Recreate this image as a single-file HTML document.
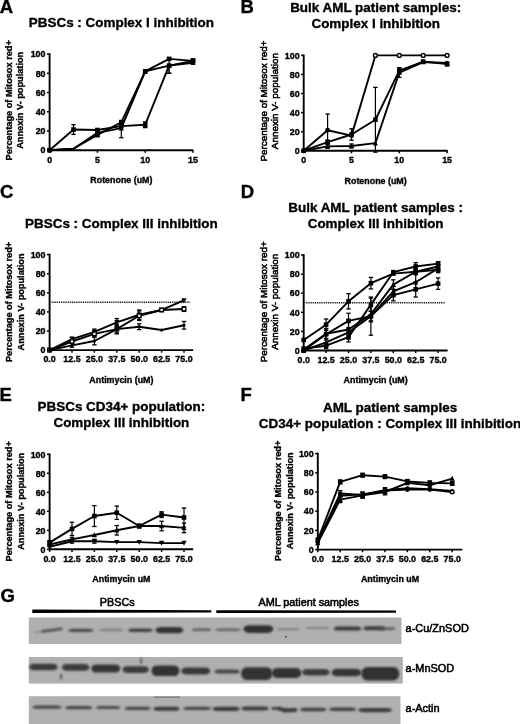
<!DOCTYPE html>
<html><head><meta charset="utf-8"><title>Figure</title>
<style>
html,body{margin:0;padding:0;background:#fff;}
body{width:520px;height:724px;overflow:hidden;}
svg{display:block;will-change:transform;font-family:"Liberation Sans",sans-serif;}
text{stroke:#000;stroke-width:0.35px;}
text.r{stroke-width:0.55px;}
</style></head><body>
<svg width="520" height="724" viewBox="0 0 520 724">
<defs><filter id="bl" filterUnits="userSpaceOnUse" x="0" y="580" width="520" height="150"><feGaussianBlur stdDeviation="0.9"/></filter></defs>
<rect width="520" height="724" fill="#fff"/>
<text x="-0.2" y="12.6" font-size="18.5" font-weight="bold" text-anchor="start" >A</text>
<text x="240.6" y="12.9" font-size="18.5" font-weight="bold" text-anchor="start" >B</text>
<text x="0.1" y="197.9" font-size="18.5" font-weight="bold" text-anchor="start" >C</text>
<text x="240.8" y="197.8" font-size="18.5" font-weight="bold" text-anchor="start" >D</text>
<text x="-0.4" y="401.2" font-size="18.5" font-weight="bold" text-anchor="start" >E</text>
<text x="240.6" y="401.2" font-size="18.5" font-weight="bold" text-anchor="start" >F</text>
<text x="0.4" y="601.6" font-size="18.5" font-weight="bold" text-anchor="start" >G</text>
<text x="121.4" y="27.2" font-size="13.45" font-weight="bold" text-anchor="middle" >PBSCs : Complex I inhibition</text>
<line x1="49.6" y1="53.2" x2="49.6" y2="151.1" stroke="#000" stroke-width="1.9" />
<line x1="48.7" y1="150.2" x2="193.2" y2="150.2" stroke="#000" stroke-width="1.9" />
<line x1="47" y1="150.2" x2="49.6" y2="150.2" stroke="#000" stroke-width="1.5" />
<text x="45.5" y="153.4" font-size="8.9" font-weight="bold" text-anchor="end" >0</text>
<line x1="47" y1="130.98" x2="49.6" y2="130.98" stroke="#000" stroke-width="1.5" />
<text x="45.5" y="134.18" font-size="8.9" font-weight="bold" text-anchor="end" >20</text>
<line x1="47" y1="111.76" x2="49.6" y2="111.76" stroke="#000" stroke-width="1.5" />
<text x="45.5" y="114.96" font-size="8.9" font-weight="bold" text-anchor="end" >40</text>
<line x1="47" y1="92.54" x2="49.6" y2="92.54" stroke="#000" stroke-width="1.5" />
<text x="45.5" y="95.74" font-size="8.9" font-weight="bold" text-anchor="end" >60</text>
<line x1="47" y1="73.32" x2="49.6" y2="73.32" stroke="#000" stroke-width="1.5" />
<text x="45.5" y="76.52" font-size="8.9" font-weight="bold" text-anchor="end" >80</text>
<line x1="47" y1="54.1" x2="49.6" y2="54.1" stroke="#000" stroke-width="1.5" />
<text x="45.5" y="57.3" font-size="8.9" font-weight="bold" text-anchor="end" >100</text>
<line x1="49.6" y1="150.2" x2="49.6" y2="152.8" stroke="#000" stroke-width="1.5" />
<text x="49.6" y="162.5" font-size="8.9" font-weight="bold" text-anchor="middle" >0</text>
<line x1="97.4" y1="150.2" x2="97.4" y2="152.8" stroke="#000" stroke-width="1.5" />
<text x="97.4" y="162.5" font-size="8.9" font-weight="bold" text-anchor="middle" >5</text>
<line x1="145.2" y1="150.2" x2="145.2" y2="152.8" stroke="#000" stroke-width="1.5" />
<text x="145.2" y="162.5" font-size="8.9" font-weight="bold" text-anchor="middle" >10</text>
<line x1="193" y1="150.2" x2="193" y2="152.8" stroke="#000" stroke-width="1.5" />
<text x="193" y="162.5" font-size="8.9" font-weight="bold" text-anchor="middle" >15</text>
<text x="121.4" y="183" font-size="8.9" font-weight="bold" text-anchor="middle" >Rotenone (uM)</text>
<text x="0" y="0" font-size="9.2" font-weight="bold" text-anchor="middle" transform="translate(11.6,100.3) rotate(-90)">Percentage of Mitosox red+</text>
<text x="0" y="0" font-size="9.2" font-weight="bold" text-anchor="middle" transform="translate(23.2,100.3) rotate(-90)">Annexin V- population</text>
<polyline points="49.6,150.2 73.5,129.54 97.4,130.02 121.3,126.17 145.2,124.73 169.1,65.63 193,60.83" fill="none" stroke="#000" stroke-width="1.9" stroke-linejoin="round"/>
<line x1="73.5" y1="124.73" x2="73.5" y2="134.34" stroke="#000" stroke-width="1.2" />
<line x1="71.3" y1="124.73" x2="75.7" y2="124.73" stroke="#000" stroke-width="1.3" />
<line x1="71.3" y1="134.34" x2="75.7" y2="134.34" stroke="#000" stroke-width="1.3" />
<line x1="145.2" y1="121.85" x2="145.2" y2="127.62" stroke="#000" stroke-width="1.2" />
<line x1="143" y1="121.85" x2="147.4" y2="121.85" stroke="#000" stroke-width="1.3" />
<line x1="143" y1="127.62" x2="147.4" y2="127.62" stroke="#000" stroke-width="1.3" />
<line x1="169.1" y1="57.94" x2="169.1" y2="73.32" stroke="#000" stroke-width="1.2" />
<line x1="166.9" y1="57.94" x2="171.3" y2="57.94" stroke="#000" stroke-width="1.3" />
<line x1="166.9" y1="73.32" x2="171.3" y2="73.32" stroke="#000" stroke-width="1.3" />
<rect x="47.3" y="147.9" width="4.6" height="4.6" fill="#000"/>
<rect x="71.2" y="127.24" width="4.6" height="4.6" fill="#000"/>
<rect x="95.1" y="127.72" width="4.6" height="4.6" fill="#000"/>
<rect x="119" y="123.87" width="4.6" height="4.6" fill="#000"/>
<rect x="142.9" y="122.43" width="4.6" height="4.6" fill="#000"/>
<rect x="166.8" y="63.33" width="4.6" height="4.6" fill="#000"/>
<rect x="190.7" y="58.53" width="4.6" height="4.6" fill="#000"/>
<polyline points="49.6,150.2 73.5,148.76 97.4,134.82 121.3,122.33 145.2,71.4 169.1,58.9 193,60.83" fill="none" stroke="#000" stroke-width="1.9" stroke-linejoin="round"/>
<line x1="97.4" y1="132.9" x2="97.4" y2="136.75" stroke="#000" stroke-width="1.2" />
<line x1="95.2" y1="132.9" x2="99.6" y2="132.9" stroke="#000" stroke-width="1.3" />
<line x1="95.2" y1="136.75" x2="99.6" y2="136.75" stroke="#000" stroke-width="1.3" />
<line x1="121.3" y1="120.41" x2="121.3" y2="124.25" stroke="#000" stroke-width="1.2" />
<line x1="119.1" y1="120.41" x2="123.5" y2="120.41" stroke="#000" stroke-width="1.3" />
<line x1="119.1" y1="124.25" x2="123.5" y2="124.25" stroke="#000" stroke-width="1.3" />
<line x1="193" y1="58.9" x2="193" y2="62.75" stroke="#000" stroke-width="1.2" />
<line x1="190.8" y1="58.9" x2="195.2" y2="58.9" stroke="#000" stroke-width="1.3" />
<line x1="190.8" y1="62.75" x2="195.2" y2="62.75" stroke="#000" stroke-width="1.3" />
<circle cx="49.6" cy="150.2" r="2.3" fill="#000"/>
<rect x="95.1" y="132.52" width="4.6" height="4.6" fill="#000"/>
<rect x="119" y="120.03" width="4.6" height="4.6" fill="#000"/>
<rect x="142.9" y="69.1" width="4.6" height="4.6" fill="#000"/>
<rect x="166.8" y="56.6" width="4.6" height="4.6" fill="#000"/>
<rect x="190.7" y="58.53" width="4.6" height="4.6" fill="#000"/>
<polyline points="49.6,150.2 73.5,148.76 97.4,132.9 121.3,128.1 145.2,71.4 169.1,65.63 193,62.75" fill="none" stroke="#000" stroke-width="1.9" stroke-linejoin="round"/>
<line x1="97.4" y1="130.98" x2="97.4" y2="134.82" stroke="#000" stroke-width="1.2" />
<line x1="95.2" y1="130.98" x2="99.6" y2="130.98" stroke="#000" stroke-width="1.3" />
<line x1="95.2" y1="134.82" x2="99.6" y2="134.82" stroke="#000" stroke-width="1.3" />
<line x1="121.3" y1="125.21" x2="121.3" y2="137.71" stroke="#000" stroke-width="1.2" />
<line x1="119.1" y1="125.21" x2="123.5" y2="125.21" stroke="#000" stroke-width="1.3" />
<line x1="119.1" y1="137.71" x2="123.5" y2="137.71" stroke="#000" stroke-width="1.3" />
<line x1="169.1" y1="65.63" x2="169.1" y2="73.32" stroke="#000" stroke-width="1.2" />
<line x1="166.9" y1="73.32" x2="171.3" y2="73.32" stroke="#000" stroke-width="1.3" />
<circle cx="49.6" cy="150.2" r="2.3" fill="#000"/>
<path d="M97.4 130.2L100 135.2L94.8 135.2Z" fill="#000"/>
<path d="M121.3 125.4L123.9 130.4L118.7 130.4Z" fill="#000"/>
<path d="M145.2 68.7L147.8 73.7L142.6 73.7Z" fill="#000"/>
<path d="M169.1 62.93L171.7 67.93L166.5 67.93Z" fill="#000"/>
<path d="M193 60.05L195.6 65.05L190.4 65.05Z" fill="#000"/>
<text x="375.65" y="12.1" font-size="13.45" font-weight="bold" text-anchor="middle" >Bulk AML patient samples:</text>
<text x="375.65" y="28.1" font-size="13.45" font-weight="bold" text-anchor="middle" >Complex I inhibition</text>
<line x1="303.7" y1="54.5" x2="303.7" y2="151.6" stroke="#000" stroke-width="1.9" />
<line x1="302.8" y1="150.7" x2="447.6" y2="150.7" stroke="#000" stroke-width="1.9" />
<line x1="301.1" y1="150.7" x2="303.7" y2="150.7" stroke="#000" stroke-width="1.5" />
<text x="299.6" y="153.9" font-size="8.9" font-weight="bold" text-anchor="end" >0</text>
<line x1="301.1" y1="131.64" x2="303.7" y2="131.64" stroke="#000" stroke-width="1.5" />
<text x="299.6" y="134.84" font-size="8.9" font-weight="bold" text-anchor="end" >20</text>
<line x1="301.1" y1="112.58" x2="303.7" y2="112.58" stroke="#000" stroke-width="1.5" />
<text x="299.6" y="115.78" font-size="8.9" font-weight="bold" text-anchor="end" >40</text>
<line x1="301.1" y1="93.52" x2="303.7" y2="93.52" stroke="#000" stroke-width="1.5" />
<text x="299.6" y="96.72" font-size="8.9" font-weight="bold" text-anchor="end" >60</text>
<line x1="301.1" y1="74.46" x2="303.7" y2="74.46" stroke="#000" stroke-width="1.5" />
<text x="299.6" y="77.66" font-size="8.9" font-weight="bold" text-anchor="end" >80</text>
<line x1="301.1" y1="55.4" x2="303.7" y2="55.4" stroke="#000" stroke-width="1.5" />
<text x="299.6" y="58.6" font-size="8.9" font-weight="bold" text-anchor="end" >100</text>
<line x1="303.7" y1="150.7" x2="303.7" y2="153.3" stroke="#000" stroke-width="1.5" />
<text x="303.7" y="163" font-size="8.9" font-weight="bold" text-anchor="middle" >0</text>
<line x1="351.5" y1="150.7" x2="351.5" y2="153.3" stroke="#000" stroke-width="1.5" />
<text x="351.5" y="163" font-size="8.9" font-weight="bold" text-anchor="middle" >5</text>
<line x1="399.3" y1="150.7" x2="399.3" y2="153.3" stroke="#000" stroke-width="1.5" />
<text x="399.3" y="163" font-size="8.9" font-weight="bold" text-anchor="middle" >10</text>
<line x1="447.1" y1="150.7" x2="447.1" y2="153.3" stroke="#000" stroke-width="1.5" />
<text x="447.1" y="163" font-size="8.9" font-weight="bold" text-anchor="middle" >15</text>
<text x="375.65" y="183.5" font-size="8.9" font-weight="bold" text-anchor="middle" >Rotenone (uM)</text>
<text x="0" y="0" font-size="9.9" font-weight="normal" class="r" text-anchor="middle" transform="translate(266.6,101.1) rotate(-90)">Percentage of Mitosox red+</text>
<text x="0" y="0" font-size="9.9" font-weight="normal" class="r" text-anchor="middle" transform="translate(277.8,101.1) rotate(-90)">Annexin V- population</text>
<polyline points="303.7,150.7 327.6,130.21 351.5,135.64 375.4,55.4 399.3,55.4 423.2,55.4 447.1,55.4" fill="none" stroke="#000" stroke-width="1.9" stroke-linejoin="round"/>
<line x1="327.6" y1="114.01" x2="327.6" y2="146.41" stroke="#000" stroke-width="1.2" />
<line x1="325.4" y1="114.01" x2="329.8" y2="114.01" stroke="#000" stroke-width="1.3" />
<line x1="325.4" y1="146.41" x2="329.8" y2="146.41" stroke="#000" stroke-width="1.3" />
<circle cx="303.7" cy="150.7" r="2.4" fill="#000"/>
<circle cx="327.6" cy="130.21" r="2.4" fill="#000"/>
<circle cx="351.5" cy="135.64" r="2.4" fill="#000"/>
<circle cx="375.4" cy="55.4" r="1.9" fill="#fff" stroke="#000" stroke-width="1.4"/>
<circle cx="399.3" cy="55.4" r="1.9" fill="#fff" stroke="#000" stroke-width="1.4"/>
<circle cx="423.2" cy="55.4" r="1.9" fill="#fff" stroke="#000" stroke-width="1.4"/>
<circle cx="447.1" cy="55.4" r="1.9" fill="#fff" stroke="#000" stroke-width="1.4"/>
<polyline points="303.7,150.7 327.6,142.12 351.5,134.5 375.4,119.73 399.3,70.65 423.2,61.59 447.1,63.98" fill="none" stroke="#000" stroke-width="1.9" stroke-linejoin="round"/>
<line x1="327.6" y1="140.22" x2="327.6" y2="144.03" stroke="#000" stroke-width="1.2" />
<line x1="325.4" y1="140.22" x2="329.8" y2="140.22" stroke="#000" stroke-width="1.3" />
<line x1="325.4" y1="144.03" x2="329.8" y2="144.03" stroke="#000" stroke-width="1.3" />
<line x1="351.5" y1="128.78" x2="351.5" y2="140.22" stroke="#000" stroke-width="1.2" />
<line x1="349.3" y1="128.78" x2="353.7" y2="128.78" stroke="#000" stroke-width="1.3" />
<line x1="349.3" y1="140.22" x2="353.7" y2="140.22" stroke="#000" stroke-width="1.3" />
<line x1="375.4" y1="87.33" x2="375.4" y2="152.13" stroke="#000" stroke-width="1.2" />
<line x1="373.2" y1="87.33" x2="377.6" y2="87.33" stroke="#000" stroke-width="1.3" />
<line x1="373.2" y1="152.13" x2="377.6" y2="152.13" stroke="#000" stroke-width="1.3" />
<line x1="399.3" y1="67.79" x2="399.3" y2="73.51" stroke="#000" stroke-width="1.2" />
<line x1="397.1" y1="67.79" x2="401.5" y2="67.79" stroke="#000" stroke-width="1.3" />
<line x1="397.1" y1="73.51" x2="401.5" y2="73.51" stroke="#000" stroke-width="1.3" />
<line x1="447.1" y1="62.07" x2="447.1" y2="65.88" stroke="#000" stroke-width="1.2" />
<line x1="444.9" y1="62.07" x2="449.3" y2="62.07" stroke="#000" stroke-width="1.3" />
<line x1="444.9" y1="65.88" x2="449.3" y2="65.88" stroke="#000" stroke-width="1.3" />
<rect x="301.4" y="148.4" width="4.6" height="4.6" fill="#000"/>
<rect x="325.3" y="139.82" width="4.6" height="4.6" fill="#000"/>
<rect x="349.2" y="132.2" width="4.6" height="4.6" fill="#000"/>
<rect x="373.1" y="117.43" width="4.6" height="4.6" fill="#000"/>
<rect x="397" y="68.35" width="4.6" height="4.6" fill="#000"/>
<rect x="420.9" y="59.29" width="4.6" height="4.6" fill="#000"/>
<rect x="444.8" y="61.68" width="4.6" height="4.6" fill="#000"/>
<polyline points="303.7,150.7 327.6,146.41 351.5,145.94 375.4,143.08 399.3,72.55 423.2,62.07 447.1,63.02" fill="none" stroke="#000" stroke-width="1.9" stroke-linejoin="round"/>
<line x1="327.6" y1="144.51" x2="327.6" y2="148.32" stroke="#000" stroke-width="1.2" />
<line x1="325.4" y1="144.51" x2="329.8" y2="144.51" stroke="#000" stroke-width="1.3" />
<line x1="325.4" y1="148.32" x2="329.8" y2="148.32" stroke="#000" stroke-width="1.3" />
<line x1="351.5" y1="144.03" x2="351.5" y2="147.84" stroke="#000" stroke-width="1.2" />
<line x1="349.3" y1="144.03" x2="353.7" y2="144.03" stroke="#000" stroke-width="1.3" />
<line x1="349.3" y1="147.84" x2="353.7" y2="147.84" stroke="#000" stroke-width="1.3" />
<line x1="399.3" y1="67.79" x2="399.3" y2="77.32" stroke="#000" stroke-width="1.2" />
<line x1="397.1" y1="67.79" x2="401.5" y2="67.79" stroke="#000" stroke-width="1.3" />
<line x1="397.1" y1="77.32" x2="401.5" y2="77.32" stroke="#000" stroke-width="1.3" />
<path d="M303.7 148L306.3 153L301.1 153Z" fill="#000"/>
<path d="M327.6 143.71L330.2 148.71L325 148.71Z" fill="#000"/>
<path d="M351.5 143.23L354.1 148.24L348.9 148.24Z" fill="#000"/>
<path d="M375.4 140.38L378 145.38L372.8 145.38Z" fill="#000"/>
<path d="M399.3 69.85L401.9 74.85L396.7 74.85Z" fill="#000"/>
<path d="M423.2 59.37L425.8 64.37L420.6 64.37Z" fill="#000"/>
<path d="M447.1 60.32L449.7 65.32L444.5 65.32Z" fill="#000"/>
<text x="121.4" y="228.1" font-size="13.45" font-weight="bold" text-anchor="middle" >PBSCs : Complex III inhibition</text>
<line x1="51.6" y1="302.35" x2="190.5" y2="302.35" stroke="#000" stroke-width="1.5" stroke-dasharray="1 0.85"/>
<line x1="49.6" y1="253.7" x2="49.6" y2="351" stroke="#000" stroke-width="1.9" />
<line x1="48.7" y1="350.1" x2="193.2" y2="350.1" stroke="#000" stroke-width="1.9" />
<line x1="47" y1="350.1" x2="49.6" y2="350.1" stroke="#000" stroke-width="1.5" />
<text x="45.5" y="353.3" font-size="8.9" font-weight="bold" text-anchor="end" >0</text>
<line x1="47" y1="331" x2="49.6" y2="331" stroke="#000" stroke-width="1.5" />
<text x="45.5" y="334.2" font-size="8.9" font-weight="bold" text-anchor="end" >20</text>
<line x1="47" y1="311.9" x2="49.6" y2="311.9" stroke="#000" stroke-width="1.5" />
<text x="45.5" y="315.1" font-size="8.9" font-weight="bold" text-anchor="end" >40</text>
<line x1="47" y1="292.8" x2="49.6" y2="292.8" stroke="#000" stroke-width="1.5" />
<text x="45.5" y="296" font-size="8.9" font-weight="bold" text-anchor="end" >60</text>
<line x1="47" y1="273.7" x2="49.6" y2="273.7" stroke="#000" stroke-width="1.5" />
<text x="45.5" y="276.9" font-size="8.9" font-weight="bold" text-anchor="end" >80</text>
<line x1="47" y1="254.6" x2="49.6" y2="254.6" stroke="#000" stroke-width="1.5" />
<text x="45.5" y="257.8" font-size="8.9" font-weight="bold" text-anchor="end" >100</text>
<line x1="49.6" y1="350.1" x2="49.6" y2="352.7" stroke="#000" stroke-width="1.5" />
<text x="49.6" y="362.4" font-size="8.9" font-weight="bold" text-anchor="middle" >0.0</text>
<line x1="72" y1="350.1" x2="72" y2="352.7" stroke="#000" stroke-width="1.5" />
<text x="72" y="362.4" font-size="8.9" font-weight="bold" text-anchor="middle" >12.5</text>
<line x1="94.4" y1="350.1" x2="94.4" y2="352.7" stroke="#000" stroke-width="1.5" />
<text x="94.4" y="362.4" font-size="8.9" font-weight="bold" text-anchor="middle" >25.0</text>
<line x1="116.8" y1="350.1" x2="116.8" y2="352.7" stroke="#000" stroke-width="1.5" />
<text x="116.8" y="362.4" font-size="8.9" font-weight="bold" text-anchor="middle" >37.5</text>
<line x1="139.2" y1="350.1" x2="139.2" y2="352.7" stroke="#000" stroke-width="1.5" />
<text x="139.2" y="362.4" font-size="8.9" font-weight="bold" text-anchor="middle" >50.0</text>
<line x1="161.6" y1="350.1" x2="161.6" y2="352.7" stroke="#000" stroke-width="1.5" />
<text x="161.6" y="362.4" font-size="8.9" font-weight="bold" text-anchor="middle" >62.5</text>
<line x1="184" y1="350.1" x2="184" y2="352.7" stroke="#000" stroke-width="1.5" />
<text x="184" y="362.4" font-size="8.9" font-weight="bold" text-anchor="middle" >75.0</text>
<text x="121.4" y="382.9" font-size="8.9" font-weight="bold" text-anchor="middle" >Antimycin (uM)</text>
<text x="0" y="0" font-size="9.2" font-weight="bold" text-anchor="middle" transform="translate(12.4,301.9) rotate(-90)">Percentage of Mitosox red+</text>
<text x="0" y="0" font-size="9.2" font-weight="bold" text-anchor="middle" transform="translate(23.6,301.9) rotate(-90)">Annexin V- population</text>
<polyline points="49.6,350.1 72,339.12 94.4,331.96 116.8,322.41 139.2,314.76 161.6,309.99 184,300.44" fill="none" stroke="#000" stroke-width="1.9" stroke-linejoin="round"/>
<line x1="72" y1="337.21" x2="72" y2="341.03" stroke="#000" stroke-width="1.2" />
<line x1="69.8" y1="337.21" x2="74.2" y2="337.21" stroke="#000" stroke-width="1.3" />
<line x1="69.8" y1="341.03" x2="74.2" y2="341.03" stroke="#000" stroke-width="1.3" />
<line x1="94.4" y1="329.09" x2="94.4" y2="334.82" stroke="#000" stroke-width="1.2" />
<line x1="92.2" y1="329.09" x2="96.6" y2="329.09" stroke="#000" stroke-width="1.3" />
<line x1="92.2" y1="334.82" x2="96.6" y2="334.82" stroke="#000" stroke-width="1.3" />
<line x1="116.8" y1="318.59" x2="116.8" y2="326.23" stroke="#000" stroke-width="1.2" />
<line x1="114.6" y1="318.59" x2="119" y2="318.59" stroke="#000" stroke-width="1.3" />
<line x1="114.6" y1="326.23" x2="119" y2="326.23" stroke="#000" stroke-width="1.3" />
<line x1="139.2" y1="309.99" x2="139.2" y2="319.54" stroke="#000" stroke-width="1.2" />
<line x1="137" y1="309.99" x2="141.4" y2="309.99" stroke="#000" stroke-width="1.3" />
<line x1="137" y1="319.54" x2="141.4" y2="319.54" stroke="#000" stroke-width="1.3" />
<path d="M49.6 352.8L52.2 347.8L47 347.8Z" fill="#000"/>
<path d="M72 341.82L74.6 336.82L69.4 336.82Z" fill="#000"/>
<path d="M94.4 334.66L97 329.66L91.8 329.66Z" fill="#000"/>
<path d="M116.8 325.11L119.4 320.11L114.2 320.11Z" fill="#000"/>
<path d="M139.2 317.46L141.8 312.46L136.6 312.46Z" fill="#000"/>
<path d="M161.6 312.69L164.2 307.69L159 307.69Z" fill="#000"/>
<path d="M184 303.14L186.6 298.14L181.4 298.14Z" fill="#000"/>
<polyline points="49.6,350.1 72,341.5 94.4,333.87 116.8,329.09 139.2,315.72 161.6,309.99 184,309.04" fill="none" stroke="#000" stroke-width="1.9" stroke-linejoin="round"/>
<line x1="72" y1="339.6" x2="72" y2="343.42" stroke="#000" stroke-width="1.2" />
<line x1="69.8" y1="339.6" x2="74.2" y2="339.6" stroke="#000" stroke-width="1.3" />
<line x1="69.8" y1="343.42" x2="74.2" y2="343.42" stroke="#000" stroke-width="1.3" />
<line x1="94.4" y1="331" x2="94.4" y2="336.73" stroke="#000" stroke-width="1.2" />
<line x1="92.2" y1="331" x2="96.6" y2="331" stroke="#000" stroke-width="1.3" />
<line x1="92.2" y1="336.73" x2="96.6" y2="336.73" stroke="#000" stroke-width="1.3" />
<line x1="116.8" y1="325.27" x2="116.8" y2="332.91" stroke="#000" stroke-width="1.2" />
<line x1="114.6" y1="325.27" x2="119" y2="325.27" stroke="#000" stroke-width="1.3" />
<line x1="114.6" y1="332.91" x2="119" y2="332.91" stroke="#000" stroke-width="1.3" />
<line x1="139.2" y1="310.94" x2="139.2" y2="320.5" stroke="#000" stroke-width="1.2" />
<line x1="137" y1="310.94" x2="141.4" y2="310.94" stroke="#000" stroke-width="1.3" />
<line x1="137" y1="320.5" x2="141.4" y2="320.5" stroke="#000" stroke-width="1.3" />
<line x1="161.6" y1="308.56" x2="161.6" y2="311.42" stroke="#000" stroke-width="1.2" />
<line x1="159.4" y1="308.56" x2="163.8" y2="308.56" stroke="#000" stroke-width="1.3" />
<line x1="159.4" y1="311.42" x2="163.8" y2="311.42" stroke="#000" stroke-width="1.3" />
<line x1="184" y1="306.65" x2="184" y2="311.42" stroke="#000" stroke-width="1.2" />
<line x1="181.8" y1="306.65" x2="186.2" y2="306.65" stroke="#000" stroke-width="1.3" />
<line x1="181.8" y1="311.42" x2="186.2" y2="311.42" stroke="#000" stroke-width="1.3" />
<rect x="47.8" y="348.3" width="3.6" height="3.6" fill="#fff" stroke="#000" stroke-width="1.4"/>
<rect x="70.2" y="339.7" width="3.6" height="3.6" fill="#fff" stroke="#000" stroke-width="1.4"/>
<rect x="92.6" y="332.06" width="3.6" height="3.6" fill="#fff" stroke="#000" stroke-width="1.4"/>
<rect x="115" y="327.29" width="3.6" height="3.6" fill="#fff" stroke="#000" stroke-width="1.4"/>
<rect x="137.4" y="313.92" width="3.6" height="3.6" fill="#fff" stroke="#000" stroke-width="1.4"/>
<rect x="159.8" y="308.19" width="3.6" height="3.6" fill="#fff" stroke="#000" stroke-width="1.4"/>
<rect x="182.2" y="307.24" width="3.6" height="3.6" fill="#fff" stroke="#000" stroke-width="1.4"/>
<polyline points="49.6,350.1 72,345.33 94.4,341.03 116.8,329.09 139.2,326.7 161.6,330.05 184,325.27" fill="none" stroke="#000" stroke-width="1.9" stroke-linejoin="round"/>
<line x1="72" y1="343.42" x2="72" y2="347.24" stroke="#000" stroke-width="1.2" />
<line x1="69.8" y1="343.42" x2="74.2" y2="343.42" stroke="#000" stroke-width="1.3" />
<line x1="69.8" y1="347.24" x2="74.2" y2="347.24" stroke="#000" stroke-width="1.3" />
<line x1="94.4" y1="337.21" x2="94.4" y2="344.85" stroke="#000" stroke-width="1.2" />
<line x1="92.2" y1="337.21" x2="96.6" y2="337.21" stroke="#000" stroke-width="1.3" />
<line x1="92.2" y1="344.85" x2="96.6" y2="344.85" stroke="#000" stroke-width="1.3" />
<line x1="116.8" y1="324.31" x2="116.8" y2="333.87" stroke="#000" stroke-width="1.2" />
<line x1="114.6" y1="324.31" x2="119" y2="324.31" stroke="#000" stroke-width="1.3" />
<line x1="114.6" y1="333.87" x2="119" y2="333.87" stroke="#000" stroke-width="1.3" />
<line x1="139.2" y1="323.84" x2="139.2" y2="329.57" stroke="#000" stroke-width="1.2" />
<line x1="137" y1="323.84" x2="141.4" y2="323.84" stroke="#000" stroke-width="1.3" />
<line x1="137" y1="329.57" x2="141.4" y2="329.57" stroke="#000" stroke-width="1.3" />
<line x1="184" y1="321.45" x2="184" y2="329.09" stroke="#000" stroke-width="1.2" />
<line x1="181.8" y1="321.45" x2="186.2" y2="321.45" stroke="#000" stroke-width="1.3" />
<line x1="181.8" y1="329.09" x2="186.2" y2="329.09" stroke="#000" stroke-width="1.3" />
<circle cx="49.6" cy="350.1" r="1.6" fill="#000"/>
<circle cx="72" cy="345.33" r="1.6" fill="#000"/>
<circle cx="94.4" cy="341.03" r="1.6" fill="#000"/>
<circle cx="116.8" cy="329.09" r="1.6" fill="#000"/>
<circle cx="139.2" cy="326.7" r="1.6" fill="#000"/>
<circle cx="161.6" cy="330.05" r="1.6" fill="#000"/>
<circle cx="184" cy="325.27" r="1.6" fill="#000"/>
<text x="375.65" y="212" font-size="13.45" font-weight="bold" text-anchor="middle" >Bulk AML patient samples :</text>
<text x="375.65" y="228" font-size="13.45" font-weight="bold" text-anchor="middle" >Complex III inhibition</text>
<line x1="305.7" y1="302.75" x2="445" y2="302.75" stroke="#000" stroke-width="1.5" stroke-dasharray="1 0.85"/>
<line x1="303.7" y1="254.1" x2="303.7" y2="351.4" stroke="#000" stroke-width="1.9" />
<line x1="302.8" y1="350.5" x2="447.6" y2="350.5" stroke="#000" stroke-width="1.9" />
<line x1="301.1" y1="350.5" x2="303.7" y2="350.5" stroke="#000" stroke-width="1.5" />
<text x="299.6" y="353.7" font-size="8.9" font-weight="bold" text-anchor="end" >0</text>
<line x1="301.1" y1="331.4" x2="303.7" y2="331.4" stroke="#000" stroke-width="1.5" />
<text x="299.6" y="334.6" font-size="8.9" font-weight="bold" text-anchor="end" >20</text>
<line x1="301.1" y1="312.3" x2="303.7" y2="312.3" stroke="#000" stroke-width="1.5" />
<text x="299.6" y="315.5" font-size="8.9" font-weight="bold" text-anchor="end" >40</text>
<line x1="301.1" y1="293.2" x2="303.7" y2="293.2" stroke="#000" stroke-width="1.5" />
<text x="299.6" y="296.4" font-size="8.9" font-weight="bold" text-anchor="end" >60</text>
<line x1="301.1" y1="274.1" x2="303.7" y2="274.1" stroke="#000" stroke-width="1.5" />
<text x="299.6" y="277.3" font-size="8.9" font-weight="bold" text-anchor="end" >80</text>
<line x1="301.1" y1="255" x2="303.7" y2="255" stroke="#000" stroke-width="1.5" />
<text x="299.6" y="258.2" font-size="8.9" font-weight="bold" text-anchor="end" >100</text>
<line x1="303.7" y1="350.5" x2="303.7" y2="353.1" stroke="#000" stroke-width="1.5" />
<text x="303.7" y="362.8" font-size="8.9" font-weight="bold" text-anchor="middle" >0.0</text>
<line x1="326.1" y1="350.5" x2="326.1" y2="353.1" stroke="#000" stroke-width="1.5" />
<text x="326.1" y="362.8" font-size="8.9" font-weight="bold" text-anchor="middle" >12.5</text>
<line x1="348.5" y1="350.5" x2="348.5" y2="353.1" stroke="#000" stroke-width="1.5" />
<text x="348.5" y="362.8" font-size="8.9" font-weight="bold" text-anchor="middle" >25.0</text>
<line x1="370.9" y1="350.5" x2="370.9" y2="353.1" stroke="#000" stroke-width="1.5" />
<text x="370.9" y="362.8" font-size="8.9" font-weight="bold" text-anchor="middle" >37.5</text>
<line x1="393.3" y1="350.5" x2="393.3" y2="353.1" stroke="#000" stroke-width="1.5" />
<text x="393.3" y="362.8" font-size="8.9" font-weight="bold" text-anchor="middle" >50.0</text>
<line x1="415.7" y1="350.5" x2="415.7" y2="353.1" stroke="#000" stroke-width="1.5" />
<text x="415.7" y="362.8" font-size="8.9" font-weight="bold" text-anchor="middle" >62.5</text>
<line x1="438.1" y1="350.5" x2="438.1" y2="353.1" stroke="#000" stroke-width="1.5" />
<text x="438.1" y="362.8" font-size="8.9" font-weight="bold" text-anchor="middle" >75.0</text>
<text x="375.65" y="383.3" font-size="8.9" font-weight="bold" text-anchor="middle" >Antimycin (uM)</text>
<text x="0" y="0" font-size="9.9" font-weight="normal" class="r" text-anchor="middle" transform="translate(266.6,301.7) rotate(-90)">Percentage of Mitosox red+</text>
<text x="0" y="0" font-size="9.9" font-weight="normal" class="r" text-anchor="middle" transform="translate(277.8,301.7) rotate(-90)">Annexin V- population</text>
<polyline points="303.7,340 326.1,324.71 348.5,301.32 370.9,283.17 393.3,273.62 415.7,271.71 438.1,269.8" fill="none" stroke="#000" stroke-width="1.9" stroke-linejoin="round"/>
<line x1="326.1" y1="318.99" x2="326.1" y2="330.44" stroke="#000" stroke-width="1.2" />
<line x1="323.9" y1="318.99" x2="328.3" y2="318.99" stroke="#000" stroke-width="1.3" />
<line x1="323.9" y1="330.44" x2="328.3" y2="330.44" stroke="#000" stroke-width="1.3" />
<line x1="348.5" y1="293.68" x2="348.5" y2="308.96" stroke="#000" stroke-width="1.2" />
<line x1="346.3" y1="293.68" x2="350.7" y2="293.68" stroke="#000" stroke-width="1.3" />
<line x1="346.3" y1="308.96" x2="350.7" y2="308.96" stroke="#000" stroke-width="1.3" />
<line x1="370.9" y1="277.44" x2="370.9" y2="288.9" stroke="#000" stroke-width="1.2" />
<line x1="368.7" y1="277.44" x2="373.1" y2="277.44" stroke="#000" stroke-width="1.3" />
<line x1="368.7" y1="288.9" x2="373.1" y2="288.9" stroke="#000" stroke-width="1.3" />
<line x1="415.7" y1="269.8" x2="415.7" y2="273.62" stroke="#000" stroke-width="1.2" />
<line x1="413.5" y1="269.8" x2="417.9" y2="269.8" stroke="#000" stroke-width="1.3" />
<line x1="413.5" y1="273.62" x2="417.9" y2="273.62" stroke="#000" stroke-width="1.3" />
<line x1="438.1" y1="266.94" x2="438.1" y2="272.67" stroke="#000" stroke-width="1.2" />
<line x1="435.9" y1="266.94" x2="440.3" y2="266.94" stroke="#000" stroke-width="1.3" />
<line x1="435.9" y1="272.67" x2="440.3" y2="272.67" stroke="#000" stroke-width="1.3" />
<rect x="301.4" y="337.69" width="4.6" height="4.6" fill="#000"/>
<rect x="323.8" y="322.41" width="4.6" height="4.6" fill="#000"/>
<rect x="346.2" y="299.02" width="4.6" height="4.6" fill="#000"/>
<rect x="368.6" y="280.87" width="4.6" height="4.6" fill="#000"/>
<rect x="391" y="271.32" width="4.6" height="4.6" fill="#000"/>
<rect x="413.4" y="269.41" width="4.6" height="4.6" fill="#000"/>
<rect x="435.8" y="267.5" width="4.6" height="4.6" fill="#000"/>
<polyline points="303.7,348.59 326.1,345.73 348.5,337.13 370.9,304.66 393.3,272.19 415.7,266.46 438.1,263.6" fill="none" stroke="#000" stroke-width="1.9" stroke-linejoin="round"/>
<line x1="326.1" y1="342.86" x2="326.1" y2="348.59" stroke="#000" stroke-width="1.2" />
<line x1="323.9" y1="342.86" x2="328.3" y2="342.86" stroke="#000" stroke-width="1.3" />
<line x1="323.9" y1="348.59" x2="328.3" y2="348.59" stroke="#000" stroke-width="1.3" />
<line x1="348.5" y1="332.36" x2="348.5" y2="341.9" stroke="#000" stroke-width="1.2" />
<line x1="346.3" y1="332.36" x2="350.7" y2="332.36" stroke="#000" stroke-width="1.3" />
<line x1="346.3" y1="341.9" x2="350.7" y2="341.9" stroke="#000" stroke-width="1.3" />
<line x1="370.9" y1="297.98" x2="370.9" y2="311.35" stroke="#000" stroke-width="1.2" />
<line x1="368.7" y1="297.98" x2="373.1" y2="297.98" stroke="#000" stroke-width="1.3" />
<line x1="368.7" y1="311.35" x2="373.1" y2="311.35" stroke="#000" stroke-width="1.3" />
<line x1="415.7" y1="262.64" x2="415.7" y2="270.28" stroke="#000" stroke-width="1.2" />
<line x1="413.5" y1="262.64" x2="417.9" y2="262.64" stroke="#000" stroke-width="1.3" />
<line x1="413.5" y1="270.28" x2="417.9" y2="270.28" stroke="#000" stroke-width="1.3" />
<line x1="438.1" y1="261.69" x2="438.1" y2="265.5" stroke="#000" stroke-width="1.2" />
<line x1="435.9" y1="261.69" x2="440.3" y2="261.69" stroke="#000" stroke-width="1.3" />
<line x1="435.9" y1="265.5" x2="440.3" y2="265.5" stroke="#000" stroke-width="1.3" />
<rect x="301.4" y="346.29" width="4.6" height="4.6" fill="#000"/>
<rect x="323.8" y="343.43" width="4.6" height="4.6" fill="#000"/>
<rect x="346.2" y="334.83" width="4.6" height="4.6" fill="#000"/>
<rect x="368.6" y="302.36" width="4.6" height="4.6" fill="#000"/>
<rect x="391" y="269.89" width="4.6" height="4.6" fill="#000"/>
<rect x="413.4" y="264.16" width="4.6" height="4.6" fill="#000"/>
<rect x="435.8" y="261.3" width="4.6" height="4.6" fill="#000"/>
<polyline points="303.7,349.55 326.1,333.79 348.5,329.49 370.9,314.21 393.3,284.61 415.7,271.71 438.1,266.46" fill="none" stroke="#000" stroke-width="1.9" stroke-linejoin="round"/>
<line x1="326.1" y1="329.01" x2="326.1" y2="338.56" stroke="#000" stroke-width="1.2" />
<line x1="323.9" y1="329.01" x2="328.3" y2="329.01" stroke="#000" stroke-width="1.3" />
<line x1="323.9" y1="338.56" x2="328.3" y2="338.56" stroke="#000" stroke-width="1.3" />
<line x1="348.5" y1="319.94" x2="348.5" y2="339.04" stroke="#000" stroke-width="1.2" />
<line x1="346.3" y1="319.94" x2="350.7" y2="319.94" stroke="#000" stroke-width="1.3" />
<line x1="346.3" y1="339.04" x2="350.7" y2="339.04" stroke="#000" stroke-width="1.3" />
<line x1="370.9" y1="306.57" x2="370.9" y2="321.85" stroke="#000" stroke-width="1.2" />
<line x1="368.7" y1="306.57" x2="373.1" y2="306.57" stroke="#000" stroke-width="1.3" />
<line x1="368.7" y1="321.85" x2="373.1" y2="321.85" stroke="#000" stroke-width="1.3" />
<line x1="393.3" y1="279.83" x2="393.3" y2="289.38" stroke="#000" stroke-width="1.2" />
<line x1="391.1" y1="279.83" x2="395.5" y2="279.83" stroke="#000" stroke-width="1.3" />
<line x1="391.1" y1="289.38" x2="395.5" y2="289.38" stroke="#000" stroke-width="1.3" />
<line x1="415.7" y1="268.85" x2="415.7" y2="274.58" stroke="#000" stroke-width="1.2" />
<line x1="413.5" y1="268.85" x2="417.9" y2="268.85" stroke="#000" stroke-width="1.3" />
<line x1="413.5" y1="274.58" x2="417.9" y2="274.58" stroke="#000" stroke-width="1.3" />
<line x1="438.1" y1="264.55" x2="438.1" y2="268.37" stroke="#000" stroke-width="1.2" />
<line x1="435.9" y1="264.55" x2="440.3" y2="264.55" stroke="#000" stroke-width="1.3" />
<line x1="435.9" y1="268.37" x2="440.3" y2="268.37" stroke="#000" stroke-width="1.3" />
<path d="M303.7 346.85L306.3 351.85L301.1 351.85Z" fill="#000"/>
<path d="M326.1 331.09L328.7 336.09L323.5 336.09Z" fill="#000"/>
<path d="M348.5 326.79L351.1 331.79L345.9 331.79Z" fill="#000"/>
<path d="M370.9 311.51L373.5 316.51L368.3 316.51Z" fill="#000"/>
<path d="M393.3 281.91L395.9 286.91L390.7 286.91Z" fill="#000"/>
<path d="M415.7 269.01L418.3 274.01L413.1 274.01Z" fill="#000"/>
<path d="M438.1 263.76L440.7 268.76L435.5 268.76Z" fill="#000"/>
<polyline points="303.7,350.5 326.1,342.38 348.5,332.36 370.9,316.12 393.3,291.29 415.7,282.22 438.1,268.37" fill="none" stroke="#000" stroke-width="1.9" stroke-linejoin="round"/>
<line x1="326.1" y1="338.56" x2="326.1" y2="346.2" stroke="#000" stroke-width="1.2" />
<line x1="323.9" y1="338.56" x2="328.3" y2="338.56" stroke="#000" stroke-width="1.3" />
<line x1="323.9" y1="346.2" x2="328.3" y2="346.2" stroke="#000" stroke-width="1.3" />
<line x1="348.5" y1="327.58" x2="348.5" y2="337.13" stroke="#000" stroke-width="1.2" />
<line x1="346.3" y1="327.58" x2="350.7" y2="327.58" stroke="#000" stroke-width="1.3" />
<line x1="346.3" y1="337.13" x2="350.7" y2="337.13" stroke="#000" stroke-width="1.3" />
<line x1="370.9" y1="297.02" x2="370.9" y2="335.22" stroke="#000" stroke-width="1.2" />
<line x1="368.7" y1="297.02" x2="373.1" y2="297.02" stroke="#000" stroke-width="1.3" />
<line x1="368.7" y1="335.22" x2="373.1" y2="335.22" stroke="#000" stroke-width="1.3" />
<line x1="393.3" y1="286.51" x2="393.3" y2="296.06" stroke="#000" stroke-width="1.2" />
<line x1="391.1" y1="286.51" x2="395.5" y2="286.51" stroke="#000" stroke-width="1.3" />
<line x1="391.1" y1="296.06" x2="395.5" y2="296.06" stroke="#000" stroke-width="1.3" />
<line x1="415.7" y1="274.58" x2="415.7" y2="289.86" stroke="#000" stroke-width="1.2" />
<line x1="413.5" y1="274.58" x2="417.9" y2="274.58" stroke="#000" stroke-width="1.3" />
<line x1="413.5" y1="289.86" x2="417.9" y2="289.86" stroke="#000" stroke-width="1.3" />
<line x1="438.1" y1="265.5" x2="438.1" y2="271.24" stroke="#000" stroke-width="1.2" />
<line x1="435.9" y1="265.5" x2="440.3" y2="265.5" stroke="#000" stroke-width="1.3" />
<line x1="435.9" y1="271.24" x2="440.3" y2="271.24" stroke="#000" stroke-width="1.3" />
<path d="M303.7 347.8L306.3 352.8L301.1 352.8Z" fill="#000"/>
<path d="M326.1 339.68L328.7 344.68L323.5 344.68Z" fill="#000"/>
<path d="M348.5 329.66L351.1 334.66L345.9 334.66Z" fill="#000"/>
<path d="M370.9 313.42L373.5 318.42L368.3 318.42Z" fill="#000"/>
<path d="M393.3 288.59L395.9 293.59L390.7 293.59Z" fill="#000"/>
<path d="M415.7 279.52L418.3 284.52L413.1 284.52Z" fill="#000"/>
<path d="M438.1 265.67L440.7 270.67L435.5 270.67Z" fill="#000"/>
<polyline points="303.7,350.5 326.1,334.26 348.5,320.89 370.9,316.12 393.3,295.11 415.7,289.38 438.1,283.65" fill="none" stroke="#000" stroke-width="1.9" stroke-linejoin="round"/>
<line x1="326.1" y1="328.54" x2="326.1" y2="340" stroke="#000" stroke-width="1.2" />
<line x1="323.9" y1="328.54" x2="328.3" y2="328.54" stroke="#000" stroke-width="1.3" />
<line x1="323.9" y1="340" x2="328.3" y2="340" stroke="#000" stroke-width="1.3" />
<line x1="348.5" y1="313.25" x2="348.5" y2="328.54" stroke="#000" stroke-width="1.2" />
<line x1="346.3" y1="313.25" x2="350.7" y2="313.25" stroke="#000" stroke-width="1.3" />
<line x1="346.3" y1="328.54" x2="350.7" y2="328.54" stroke="#000" stroke-width="1.3" />
<line x1="370.9" y1="311.35" x2="370.9" y2="320.89" stroke="#000" stroke-width="1.2" />
<line x1="368.7" y1="311.35" x2="373.1" y2="311.35" stroke="#000" stroke-width="1.3" />
<line x1="368.7" y1="320.89" x2="373.1" y2="320.89" stroke="#000" stroke-width="1.3" />
<line x1="393.3" y1="289.38" x2="393.3" y2="300.84" stroke="#000" stroke-width="1.2" />
<line x1="391.1" y1="289.38" x2="395.5" y2="289.38" stroke="#000" stroke-width="1.3" />
<line x1="391.1" y1="300.84" x2="395.5" y2="300.84" stroke="#000" stroke-width="1.3" />
<line x1="415.7" y1="281.74" x2="415.7" y2="297.02" stroke="#000" stroke-width="1.2" />
<line x1="413.5" y1="281.74" x2="417.9" y2="281.74" stroke="#000" stroke-width="1.3" />
<line x1="413.5" y1="297.02" x2="417.9" y2="297.02" stroke="#000" stroke-width="1.3" />
<line x1="438.1" y1="277.92" x2="438.1" y2="289.38" stroke="#000" stroke-width="1.2" />
<line x1="435.9" y1="277.92" x2="440.3" y2="277.92" stroke="#000" stroke-width="1.3" />
<line x1="435.9" y1="289.38" x2="440.3" y2="289.38" stroke="#000" stroke-width="1.3" />
<rect x="301.4" y="348.2" width="4.6" height="4.6" fill="#000"/>
<rect x="323.8" y="331.96" width="4.6" height="4.6" fill="#000"/>
<rect x="346.2" y="318.59" width="4.6" height="4.6" fill="#000"/>
<rect x="368.6" y="313.82" width="4.6" height="4.6" fill="#000"/>
<rect x="391" y="292.81" width="4.6" height="4.6" fill="#000"/>
<rect x="413.4" y="287.08" width="4.6" height="4.6" fill="#000"/>
<rect x="435.8" y="281.35" width="4.6" height="4.6" fill="#000"/>
<text x="121.4" y="411.3" font-size="13.45" font-weight="bold" text-anchor="middle" >PBSCs CD34+ population:</text>
<text x="121.4" y="426.5" font-size="13.45" font-weight="bold" text-anchor="middle" >Complex III inhibition</text>
<line x1="49.6" y1="453.4" x2="49.6" y2="550.2" stroke="#000" stroke-width="1.9" />
<line x1="48.7" y1="549.3" x2="193.2" y2="549.3" stroke="#000" stroke-width="1.9" />
<line x1="47" y1="549.3" x2="49.6" y2="549.3" stroke="#000" stroke-width="1.5" />
<text x="45.5" y="552.5" font-size="8.9" font-weight="bold" text-anchor="end" >0</text>
<line x1="47" y1="530.3" x2="49.6" y2="530.3" stroke="#000" stroke-width="1.5" />
<text x="45.5" y="533.5" font-size="8.9" font-weight="bold" text-anchor="end" >20</text>
<line x1="47" y1="511.3" x2="49.6" y2="511.3" stroke="#000" stroke-width="1.5" />
<text x="45.5" y="514.5" font-size="8.9" font-weight="bold" text-anchor="end" >40</text>
<line x1="47" y1="492.3" x2="49.6" y2="492.3" stroke="#000" stroke-width="1.5" />
<text x="45.5" y="495.5" font-size="8.9" font-weight="bold" text-anchor="end" >60</text>
<line x1="47" y1="473.3" x2="49.6" y2="473.3" stroke="#000" stroke-width="1.5" />
<text x="45.5" y="476.5" font-size="8.9" font-weight="bold" text-anchor="end" >80</text>
<line x1="47" y1="454.3" x2="49.6" y2="454.3" stroke="#000" stroke-width="1.5" />
<text x="45.5" y="457.5" font-size="8.9" font-weight="bold" text-anchor="end" >100</text>
<line x1="49.6" y1="549.3" x2="49.6" y2="551.9" stroke="#000" stroke-width="1.5" />
<text x="49.6" y="561.6" font-size="8.9" font-weight="bold" text-anchor="middle" >0.0</text>
<line x1="72" y1="549.3" x2="72" y2="551.9" stroke="#000" stroke-width="1.5" />
<text x="72" y="561.6" font-size="8.9" font-weight="bold" text-anchor="middle" >12.5</text>
<line x1="94.4" y1="549.3" x2="94.4" y2="551.9" stroke="#000" stroke-width="1.5" />
<text x="94.4" y="561.6" font-size="8.9" font-weight="bold" text-anchor="middle" >25.0</text>
<line x1="116.8" y1="549.3" x2="116.8" y2="551.9" stroke="#000" stroke-width="1.5" />
<text x="116.8" y="561.6" font-size="8.9" font-weight="bold" text-anchor="middle" >37.5</text>
<line x1="139.2" y1="549.3" x2="139.2" y2="551.9" stroke="#000" stroke-width="1.5" />
<text x="139.2" y="561.6" font-size="8.9" font-weight="bold" text-anchor="middle" >50.0</text>
<line x1="161.6" y1="549.3" x2="161.6" y2="551.9" stroke="#000" stroke-width="1.5" />
<text x="161.6" y="561.6" font-size="8.9" font-weight="bold" text-anchor="middle" >62.5</text>
<line x1="184" y1="549.3" x2="184" y2="551.9" stroke="#000" stroke-width="1.5" />
<text x="184" y="561.6" font-size="8.9" font-weight="bold" text-anchor="middle" >75.0</text>
<text x="121.4" y="582.1" font-size="8.9" font-weight="bold" text-anchor="middle" >Antimycin uM</text>
<text x="0" y="0" font-size="9.2" font-weight="bold" text-anchor="middle" transform="translate(12.4,501.3) rotate(-90)">Percentage of Mitosox red+</text>
<text x="0" y="0" font-size="9.2" font-weight="bold" text-anchor="middle" transform="translate(23.6,501.3) rotate(-90)">Annexin V- population</text>
<polyline points="49.6,542.65 72,528.88 94.4,516.05 116.8,512.73 139.2,526.02 161.6,514.62 184,517.48" fill="none" stroke="#000" stroke-width="1.9" stroke-linejoin="round"/>
<line x1="49.6" y1="540.75" x2="49.6" y2="544.55" stroke="#000" stroke-width="1.2" />
<line x1="47.4" y1="540.75" x2="51.8" y2="540.75" stroke="#000" stroke-width="1.3" />
<line x1="47.4" y1="544.55" x2="51.8" y2="544.55" stroke="#000" stroke-width="1.3" />
<line x1="72" y1="522.23" x2="72" y2="535.52" stroke="#000" stroke-width="1.2" />
<line x1="69.8" y1="522.23" x2="74.2" y2="522.23" stroke="#000" stroke-width="1.3" />
<line x1="69.8" y1="535.52" x2="74.2" y2="535.52" stroke="#000" stroke-width="1.3" />
<line x1="94.4" y1="505.6" x2="94.4" y2="526.5" stroke="#000" stroke-width="1.2" />
<line x1="92.2" y1="505.6" x2="96.6" y2="505.6" stroke="#000" stroke-width="1.3" />
<line x1="92.2" y1="526.5" x2="96.6" y2="526.5" stroke="#000" stroke-width="1.3" />
<line x1="116.8" y1="506.07" x2="116.8" y2="519.38" stroke="#000" stroke-width="1.2" />
<line x1="114.6" y1="506.07" x2="119" y2="506.07" stroke="#000" stroke-width="1.3" />
<line x1="114.6" y1="519.38" x2="119" y2="519.38" stroke="#000" stroke-width="1.3" />
<line x1="139.2" y1="524.12" x2="139.2" y2="527.92" stroke="#000" stroke-width="1.2" />
<line x1="137" y1="524.12" x2="141.4" y2="524.12" stroke="#000" stroke-width="1.3" />
<line x1="137" y1="527.92" x2="141.4" y2="527.92" stroke="#000" stroke-width="1.3" />
<line x1="161.6" y1="511.77" x2="161.6" y2="517.48" stroke="#000" stroke-width="1.2" />
<line x1="159.4" y1="511.77" x2="163.8" y2="511.77" stroke="#000" stroke-width="1.3" />
<line x1="159.4" y1="517.48" x2="163.8" y2="517.48" stroke="#000" stroke-width="1.3" />
<line x1="184" y1="507.97" x2="184" y2="526.98" stroke="#000" stroke-width="1.2" />
<line x1="181.8" y1="507.97" x2="186.2" y2="507.97" stroke="#000" stroke-width="1.3" />
<line x1="181.8" y1="526.98" x2="186.2" y2="526.98" stroke="#000" stroke-width="1.3" />
<rect x="47.3" y="540.35" width="4.6" height="4.6" fill="#000"/>
<rect x="69.7" y="526.58" width="4.6" height="4.6" fill="#000"/>
<rect x="92.1" y="513.75" width="4.6" height="4.6" fill="#000"/>
<rect x="114.5" y="510.43" width="4.6" height="4.6" fill="#000"/>
<rect x="136.9" y="523.73" width="4.6" height="4.6" fill="#000"/>
<rect x="159.3" y="512.33" width="4.6" height="4.6" fill="#000"/>
<rect x="181.7" y="515.18" width="4.6" height="4.6" fill="#000"/>
<polyline points="49.6,544.55 72,539.32 94.4,535.05 116.8,530.3 139.2,526.02 161.6,526.02 184,527.92" fill="none" stroke="#000" stroke-width="1.9" stroke-linejoin="round"/>
<line x1="49.6" y1="542.65" x2="49.6" y2="546.45" stroke="#000" stroke-width="1.2" />
<line x1="47.4" y1="542.65" x2="51.8" y2="542.65" stroke="#000" stroke-width="1.3" />
<line x1="47.4" y1="546.45" x2="51.8" y2="546.45" stroke="#000" stroke-width="1.3" />
<line x1="72" y1="537.42" x2="72" y2="541.22" stroke="#000" stroke-width="1.2" />
<line x1="69.8" y1="537.42" x2="74.2" y2="537.42" stroke="#000" stroke-width="1.3" />
<line x1="69.8" y1="541.22" x2="74.2" y2="541.22" stroke="#000" stroke-width="1.3" />
<line x1="116.8" y1="525.55" x2="116.8" y2="535.05" stroke="#000" stroke-width="1.2" />
<line x1="114.6" y1="525.55" x2="119" y2="525.55" stroke="#000" stroke-width="1.3" />
<line x1="114.6" y1="535.05" x2="119" y2="535.05" stroke="#000" stroke-width="1.3" />
<line x1="161.6" y1="521.27" x2="161.6" y2="530.77" stroke="#000" stroke-width="1.2" />
<line x1="159.4" y1="521.27" x2="163.8" y2="521.27" stroke="#000" stroke-width="1.3" />
<line x1="159.4" y1="530.77" x2="163.8" y2="530.77" stroke="#000" stroke-width="1.3" />
<line x1="184" y1="523.17" x2="184" y2="532.67" stroke="#000" stroke-width="1.2" />
<line x1="181.8" y1="523.17" x2="186.2" y2="523.17" stroke="#000" stroke-width="1.3" />
<line x1="181.8" y1="532.67" x2="186.2" y2="532.67" stroke="#000" stroke-width="1.3" />
<path d="M49.6 541.85L52.2 546.85L47 546.85Z" fill="#000"/>
<path d="M72 536.62L74.6 541.62L69.4 541.62Z" fill="#000"/>
<path d="M94.4 532.35L97 537.35L91.8 537.35Z" fill="#000"/>
<path d="M116.8 527.6L119.4 532.6L114.2 532.6Z" fill="#000"/>
<path d="M139.2 523.33L141.8 528.32L136.6 528.32Z" fill="#000"/>
<path d="M161.6 523.33L164.2 528.32L159 528.32Z" fill="#000"/>
<path d="M184 525.23L186.6 530.22L181.4 530.22Z" fill="#000"/>
<polyline points="49.6,546.92 72,541.22 94.4,541.22 116.8,542.17 139.2,542.17 161.6,543.12 184,543.12" fill="none" stroke="#000" stroke-width="1.9" stroke-linejoin="round"/>
<line x1="72" y1="539.32" x2="72" y2="543.12" stroke="#000" stroke-width="1.2" />
<line x1="69.8" y1="539.32" x2="74.2" y2="539.32" stroke="#000" stroke-width="1.3" />
<line x1="69.8" y1="543.12" x2="74.2" y2="543.12" stroke="#000" stroke-width="1.3" />
<line x1="94.4" y1="539.32" x2="94.4" y2="543.12" stroke="#000" stroke-width="1.2" />
<line x1="92.2" y1="539.32" x2="96.6" y2="539.32" stroke="#000" stroke-width="1.3" />
<line x1="92.2" y1="543.12" x2="96.6" y2="543.12" stroke="#000" stroke-width="1.3" />
<path d="M49.6 549.62L52.2 544.62L47 544.62Z" fill="#000"/>
<path d="M72 543.92L74.6 538.92L69.4 538.92Z" fill="#000"/>
<path d="M94.4 543.92L97 538.92L91.8 538.92Z" fill="#000"/>
<path d="M116.8 544.87L119.4 539.88L114.2 539.88Z" fill="#000"/>
<path d="M139.2 544.87L141.8 539.88L136.6 539.88Z" fill="#000"/>
<path d="M161.6 545.82L164.2 540.83L159 540.83Z" fill="#000"/>
<path d="M184 545.82L186.6 540.83L181.4 540.83Z" fill="#000"/>
<text x="390.05" y="412.1" font-size="13.45" font-weight="bold" text-anchor="middle" >AML patient samples</text>
<text x="390.05" y="427.6" font-size="13.45" font-weight="bold" text-anchor="middle" >CD34+ population : Complex III inhibition</text>
<line x1="317.8" y1="452.7" x2="317.8" y2="550.5" stroke="#000" stroke-width="1.9" />
<line x1="316.9" y1="549.6" x2="462.3" y2="549.6" stroke="#000" stroke-width="1.9" />
<line x1="315.2" y1="549.6" x2="317.8" y2="549.6" stroke="#000" stroke-width="1.5" />
<text x="313.7" y="552.8" font-size="8.9" font-weight="bold" text-anchor="end" >0</text>
<line x1="315.2" y1="530.4" x2="317.8" y2="530.4" stroke="#000" stroke-width="1.5" />
<text x="313.7" y="533.6" font-size="8.9" font-weight="bold" text-anchor="end" >20</text>
<line x1="315.2" y1="511.2" x2="317.8" y2="511.2" stroke="#000" stroke-width="1.5" />
<text x="313.7" y="514.4" font-size="8.9" font-weight="bold" text-anchor="end" >40</text>
<line x1="315.2" y1="492" x2="317.8" y2="492" stroke="#000" stroke-width="1.5" />
<text x="313.7" y="495.2" font-size="8.9" font-weight="bold" text-anchor="end" >60</text>
<line x1="315.2" y1="472.8" x2="317.8" y2="472.8" stroke="#000" stroke-width="1.5" />
<text x="313.7" y="476" font-size="8.9" font-weight="bold" text-anchor="end" >80</text>
<line x1="315.2" y1="453.6" x2="317.8" y2="453.6" stroke="#000" stroke-width="1.5" />
<text x="313.7" y="456.8" font-size="8.9" font-weight="bold" text-anchor="end" >100</text>
<line x1="317.8" y1="549.6" x2="317.8" y2="552.2" stroke="#000" stroke-width="1.5" />
<text x="317.8" y="561.9" font-size="8.9" font-weight="bold" text-anchor="middle" >0.0</text>
<line x1="340.2" y1="549.6" x2="340.2" y2="552.2" stroke="#000" stroke-width="1.5" />
<text x="340.2" y="561.9" font-size="8.9" font-weight="bold" text-anchor="middle" >12.5</text>
<line x1="362.6" y1="549.6" x2="362.6" y2="552.2" stroke="#000" stroke-width="1.5" />
<text x="362.6" y="561.9" font-size="8.9" font-weight="bold" text-anchor="middle" >25.0</text>
<line x1="385" y1="549.6" x2="385" y2="552.2" stroke="#000" stroke-width="1.5" />
<text x="385" y="561.9" font-size="8.9" font-weight="bold" text-anchor="middle" >37.5</text>
<line x1="407.4" y1="549.6" x2="407.4" y2="552.2" stroke="#000" stroke-width="1.5" />
<text x="407.4" y="561.9" font-size="8.9" font-weight="bold" text-anchor="middle" >50.0</text>
<line x1="429.8" y1="549.6" x2="429.8" y2="552.2" stroke="#000" stroke-width="1.5" />
<text x="429.8" y="561.9" font-size="8.9" font-weight="bold" text-anchor="middle" >62.5</text>
<line x1="452.2" y1="549.6" x2="452.2" y2="552.2" stroke="#000" stroke-width="1.5" />
<text x="452.2" y="561.9" font-size="8.9" font-weight="bold" text-anchor="middle" >75.0</text>
<text x="390.05" y="582.4" font-size="8.9" font-weight="bold" text-anchor="middle" >Antimycin uM</text>
<text x="0" y="0" font-size="9.2" font-weight="bold" text-anchor="middle" transform="translate(281.4,500.8) rotate(-90)">Percentage of Mitosox red+</text>
<text x="0" y="0" font-size="9.2" font-weight="bold" text-anchor="middle" transform="translate(292.7,500.8) rotate(-90)">Annexin V- population</text>
<polyline points="317.8,540.96 340.2,495.84 362.6,494.4 385,490.08 407.4,488.16 429.8,489.12 452.2,491.04" fill="none" stroke="#000" stroke-width="1.9" stroke-linejoin="round"/>
<line x1="340.2" y1="493.92" x2="340.2" y2="497.76" stroke="#000" stroke-width="1.2" />
<line x1="338" y1="493.92" x2="342.4" y2="493.92" stroke="#000" stroke-width="1.3" />
<line x1="338" y1="497.76" x2="342.4" y2="497.76" stroke="#000" stroke-width="1.3" />
<line x1="362.6" y1="492.48" x2="362.6" y2="496.32" stroke="#000" stroke-width="1.2" />
<line x1="360.4" y1="492.48" x2="364.8" y2="492.48" stroke="#000" stroke-width="1.3" />
<line x1="360.4" y1="496.32" x2="364.8" y2="496.32" stroke="#000" stroke-width="1.3" />
<line x1="385" y1="488.16" x2="385" y2="492" stroke="#000" stroke-width="1.2" />
<line x1="382.8" y1="488.16" x2="387.2" y2="488.16" stroke="#000" stroke-width="1.3" />
<line x1="382.8" y1="492" x2="387.2" y2="492" stroke="#000" stroke-width="1.3" />
<circle cx="317.8" cy="540.96" r="2" fill="#000"/>
<circle cx="340.2" cy="495.84" r="2" fill="#000"/>
<circle cx="362.6" cy="494.4" r="2" fill="#000"/>
<circle cx="385" cy="490.08" r="2" fill="#000"/>
<circle cx="407.4" cy="488.16" r="2" fill="#000"/>
<circle cx="429.8" cy="489.12" r="2" fill="#000"/>
<circle cx="452.2" cy="491.04" r="2" fill="#000"/>
<polyline points="317.8,540 340.2,481.92 362.6,475.2 385,476.64 407.4,481.44 429.8,482.88 452.2,483.36" fill="none" stroke="#000" stroke-width="1.9" stroke-linejoin="round"/>
<line x1="317.8" y1="538.08" x2="317.8" y2="541.92" stroke="#000" stroke-width="1.2" />
<line x1="315.6" y1="538.08" x2="320" y2="538.08" stroke="#000" stroke-width="1.3" />
<line x1="315.6" y1="541.92" x2="320" y2="541.92" stroke="#000" stroke-width="1.3" />
<line x1="340.2" y1="480" x2="340.2" y2="483.84" stroke="#000" stroke-width="1.2" />
<line x1="338" y1="480" x2="342.4" y2="480" stroke="#000" stroke-width="1.3" />
<line x1="338" y1="483.84" x2="342.4" y2="483.84" stroke="#000" stroke-width="1.3" />
<line x1="362.6" y1="473.28" x2="362.6" y2="477.12" stroke="#000" stroke-width="1.2" />
<line x1="360.4" y1="473.28" x2="364.8" y2="473.28" stroke="#000" stroke-width="1.3" />
<line x1="360.4" y1="477.12" x2="364.8" y2="477.12" stroke="#000" stroke-width="1.3" />
<line x1="385" y1="474.72" x2="385" y2="478.56" stroke="#000" stroke-width="1.2" />
<line x1="382.8" y1="474.72" x2="387.2" y2="474.72" stroke="#000" stroke-width="1.3" />
<line x1="382.8" y1="478.56" x2="387.2" y2="478.56" stroke="#000" stroke-width="1.3" />
<line x1="407.4" y1="479.52" x2="407.4" y2="483.36" stroke="#000" stroke-width="1.2" />
<line x1="405.2" y1="479.52" x2="409.6" y2="479.52" stroke="#000" stroke-width="1.3" />
<line x1="405.2" y1="483.36" x2="409.6" y2="483.36" stroke="#000" stroke-width="1.3" />
<line x1="429.8" y1="480.96" x2="429.8" y2="484.8" stroke="#000" stroke-width="1.2" />
<line x1="427.6" y1="480.96" x2="432" y2="480.96" stroke="#000" stroke-width="1.3" />
<line x1="427.6" y1="484.8" x2="432" y2="484.8" stroke="#000" stroke-width="1.3" />
<line x1="452.2" y1="481.44" x2="452.2" y2="485.28" stroke="#000" stroke-width="1.2" />
<line x1="450" y1="481.44" x2="454.4" y2="481.44" stroke="#000" stroke-width="1.3" />
<line x1="450" y1="485.28" x2="454.4" y2="485.28" stroke="#000" stroke-width="1.3" />
<rect x="315.5" y="537.7" width="4.6" height="4.6" fill="#000"/>
<rect x="337.9" y="479.62" width="4.6" height="4.6" fill="#000"/>
<rect x="360.3" y="472.9" width="4.6" height="4.6" fill="#000"/>
<rect x="382.7" y="474.34" width="4.6" height="4.6" fill="#000"/>
<rect x="405.1" y="479.14" width="4.6" height="4.6" fill="#000"/>
<rect x="427.5" y="480.58" width="4.6" height="4.6" fill="#000"/>
<rect x="449.9" y="481.06" width="4.6" height="4.6" fill="#000"/>
<polyline points="317.8,542.88 340.2,499.68 362.6,495.36 385,492 407.4,482.88 429.8,485.28 452.2,478.56" fill="none" stroke="#000" stroke-width="1.9" stroke-linejoin="round"/>
<line x1="340.2" y1="496.8" x2="340.2" y2="502.56" stroke="#000" stroke-width="1.2" />
<line x1="338" y1="496.8" x2="342.4" y2="496.8" stroke="#000" stroke-width="1.3" />
<line x1="338" y1="502.56" x2="342.4" y2="502.56" stroke="#000" stroke-width="1.3" />
<line x1="362.6" y1="492.48" x2="362.6" y2="498.24" stroke="#000" stroke-width="1.2" />
<line x1="360.4" y1="492.48" x2="364.8" y2="492.48" stroke="#000" stroke-width="1.3" />
<line x1="360.4" y1="498.24" x2="364.8" y2="498.24" stroke="#000" stroke-width="1.3" />
<line x1="385" y1="489.12" x2="385" y2="494.88" stroke="#000" stroke-width="1.2" />
<line x1="382.8" y1="489.12" x2="387.2" y2="489.12" stroke="#000" stroke-width="1.3" />
<line x1="382.8" y1="494.88" x2="387.2" y2="494.88" stroke="#000" stroke-width="1.3" />
<path d="M317.8 540.18L320.4 545.18L315.2 545.18Z" fill="#000"/>
<path d="M340.2 496.98L342.8 501.98L337.6 501.98Z" fill="#000"/>
<path d="M362.6 492.66L365.2 497.66L360 497.66Z" fill="#000"/>
<path d="M385 489.3L387.6 494.3L382.4 494.3Z" fill="#000"/>
<path d="M407.4 480.18L410 485.18L404.8 485.18Z" fill="#000"/>
<path d="M429.8 482.58L432.4 487.58L427.2 487.58Z" fill="#000"/>
<path d="M452.2 475.86L454.8 480.86L449.6 480.86Z" fill="#000"/>
<polyline points="317.8,541.92 340.2,493.44 362.6,494.88 385,490.56 407.4,489.6 429.8,489.6 452.2,492" fill="none" stroke="#000" stroke-width="1.9" stroke-linejoin="round"/>
<line x1="340.2" y1="490.56" x2="340.2" y2="496.32" stroke="#000" stroke-width="1.2" />
<line x1="338" y1="490.56" x2="342.4" y2="490.56" stroke="#000" stroke-width="1.3" />
<line x1="338" y1="496.32" x2="342.4" y2="496.32" stroke="#000" stroke-width="1.3" />
<line x1="362.6" y1="492" x2="362.6" y2="497.76" stroke="#000" stroke-width="1.2" />
<line x1="360.4" y1="492" x2="364.8" y2="492" stroke="#000" stroke-width="1.3" />
<line x1="360.4" y1="497.76" x2="364.8" y2="497.76" stroke="#000" stroke-width="1.3" />
<line x1="385" y1="487.68" x2="385" y2="493.44" stroke="#000" stroke-width="1.2" />
<line x1="382.8" y1="487.68" x2="387.2" y2="487.68" stroke="#000" stroke-width="1.3" />
<line x1="382.8" y1="493.44" x2="387.2" y2="493.44" stroke="#000" stroke-width="1.3" />
<circle cx="317.8" cy="541.92" r="2.3" fill="#000"/>
<circle cx="340.2" cy="493.44" r="2.3" fill="#000"/>
<circle cx="362.6" cy="494.88" r="2.3" fill="#000"/>
<circle cx="385" cy="490.56" r="2.3" fill="#000"/>
<circle cx="407.4" cy="489.6" r="2.3" fill="#000"/>
<circle cx="429.8" cy="489.6" r="2.3" fill="#000"/>
<circle cx="452.2" cy="492" r="1.8" fill="#fff" stroke="#000" stroke-width="1.4"/>
<text x="117.2" y="605.6" font-size="10.8" font-weight="normal" text-anchor="middle" class="r" >PBSCs</text>
<text x="308.7" y="605.7" font-size="10.8" font-weight="normal" text-anchor="middle" class="r" >AML patient samples</text>
<path d="M32.3 609.6 L211.3 610.2 L211.3 612.6 L32.3 613.0Z" fill="#000"/>
<path d="M216.3 610.2 L396 610.6 L396 612.8 L216.3 613.0Z" fill="#000"/>
<text x="405.6" y="632.2" font-size="10.95" font-weight="normal" text-anchor="start" class="r" >a-Cu/ZnSOD</text>
<text x="405.6" y="672.4" font-size="10.95" font-weight="normal" text-anchor="start" class="r" >a-MnSOD</text>
<text x="405.6" y="711.8" font-size="10.95" font-weight="normal" text-anchor="start" class="r" >a-Actin</text>
<rect x="28.8" y="617.5" width="372.7" height="26.5" fill="#b0b0b0"/>
<line x1="34.4" y1="632.2" x2="43.1" y2="631.4" stroke="#8a8a8a" stroke-width="1.8" stroke-linecap="round" filter="url(#bl)"/>
<line x1="42.9" y1="631.4" x2="61.4" y2="628.8" stroke="#505050" stroke-width="2.8" stroke-linecap="round" filter="url(#bl)"/>
<rect x="68.3" y="628.7" width="25" height="3.2" rx="4.5" ry="1.6" fill="#4a4a4a" filter="url(#bl)"/>
<rect x="99" y="628.8" width="24.7" height="2.4" rx="4.45" ry="1.2" fill="#808080" filter="url(#bl)"/>
<rect x="128.1" y="628.6" width="24.4" height="3.4" rx="4.39" ry="1.7" fill="#404040" filter="url(#bl)"/>
<rect x="155.4" y="627" width="27.9" height="6.2" rx="5.02" ry="3.1" fill="#363636" filter="url(#bl)"/>
<rect x="191.9" y="628.4" width="19.3" height="2.6" rx="3.47" ry="1.3" fill="#5a5a5a" filter="url(#bl)"/>
<rect x="215.6" y="628.4" width="25" height="2.6" rx="4.5" ry="1.3" fill="#606060" filter="url(#bl)"/>
<rect x="243.5" y="625.2" width="29.8" height="7.8" rx="5.36" ry="3.9" fill="#333" filter="url(#bl)"/>
<rect x="277.1" y="628.1" width="22.1" height="2.2" rx="3.98" ry="1.1" fill="#808080" filter="url(#bl)"/>
<rect x="305.3" y="626.9" width="24.3" height="2.2" rx="4.37" ry="1.1" fill="#808080" filter="url(#bl)"/>
<rect x="333.8" y="626.5" width="27.5" height="4" rx="4.95" ry="2" fill="#3a3a3a" filter="url(#bl)"/>
<rect x="363.5" y="626.3" width="21.5" height="4" rx="3.87" ry="2" fill="#3a3a3a" filter="url(#bl)"/>
<rect x="380" y="627.2" width="15.2" height="2.8" rx="2.74" ry="1.4" fill="#5a5a5a" filter="url(#bl)"/>
<rect x="28.8" y="657.0" width="374.0" height="26.600000000000023" fill="#b0b0b0"/>
<rect x="29.2" y="663.8" width="28.5" height="6.4" rx="5.13" ry="3.2" fill="#3a3a3a" filter="url(#bl)"/>
<rect x="61.9" y="664.1" width="27.5" height="6.6" rx="4.95" ry="3.3" fill="#3a3a3a" filter="url(#bl)"/>
<rect x="91.3" y="664.4" width="28.9" height="8.2" rx="5.2" ry="4.1" fill="#363636" filter="url(#bl)"/>
<rect x="122.7" y="666.3" width="26" height="6.6" rx="4.68" ry="3.3" fill="#3a3a3a" filter="url(#bl)"/>
<rect x="151.5" y="665.5" width="27.9" height="10.4" rx="5.02" ry="5.2" fill="#303030" filter="url(#bl)"/>
<rect x="181.3" y="667.4" width="28.9" height="7.2" rx="5.2" ry="3.6" fill="#383838" filter="url(#bl)"/>
<rect x="214.6" y="669.5" width="25" height="4" rx="4.5" ry="2" fill="#444" filter="url(#bl)"/>
<rect x="241" y="667.3" width="31.5" height="12.6" rx="5.67" ry="6.3" fill="#333" filter="url(#bl)"/>
<rect x="271.8" y="668" width="29.5" height="10" rx="5.31" ry="5" fill="#333" filter="url(#bl)"/>
<rect x="302" y="669" width="27.6" height="6.4" rx="4.97" ry="3.2" fill="#3a3a3a" filter="url(#bl)"/>
<rect x="331.7" y="668.7" width="29.6" height="7.6" rx="5.33" ry="3.8" fill="#363636" filter="url(#bl)"/>
<rect x="361.3" y="667.1" width="38.1" height="13.4" rx="6" ry="6.7" fill="#303030" filter="url(#bl)"/>
<rect x="28.8" y="696.2" width="371.7" height="28.299999999999955" fill="#b0b0b0"/>
<rect x="32.3" y="705.5" width="29.2" height="3.2" rx="5.26" ry="1.6" fill="#444" filter="url(#bl)"/>
<rect x="65.4" y="706.1" width="26.9" height="3.2" rx="4.84" ry="1.6" fill="#444" filter="url(#bl)"/>
<rect x="96.2" y="705.9" width="24" height="3.2" rx="4.32" ry="1.6" fill="#484848" filter="url(#bl)"/>
<rect x="124.6" y="706.7" width="26" height="3.2" rx="4.68" ry="1.6" fill="#444" filter="url(#bl)"/>
<rect x="153.5" y="706.7" width="25.9" height="4" rx="4.66" ry="2" fill="#3a3a3a" filter="url(#bl)"/>
<rect x="183.3" y="706.7" width="27.9" height="3.2" rx="5.02" ry="1.6" fill="#444" filter="url(#bl)"/>
<rect x="212.7" y="706.7" width="26.9" height="4.2" rx="4.84" ry="2.1" fill="#3a3a3a" filter="url(#bl)"/>
<rect x="241.5" y="706.6" width="27" height="3.8" rx="4.86" ry="1.9" fill="#3e3e3e" filter="url(#bl)"/>
<line x1="272.85" y1="708.4" x2="279.65" y2="708.7" stroke="#3e3e3e" stroke-width="2.7" stroke-linecap="round" filter="url(#bl)"/>
<line x1="279.7" y1="708.8" x2="284.3" y2="710.2" stroke="#3a3a3a" stroke-width="3.4" stroke-linecap="round" filter="url(#bl)"/>
<line x1="284.9" y1="710.3" x2="295.4" y2="710" stroke="#383838" stroke-width="3.8" stroke-linecap="round" filter="url(#bl)"/>
<rect x="300" y="707.8" width="26.4" height="3.4" rx="4.75" ry="1.7" fill="#404040" filter="url(#bl)"/>
<rect x="329.2" y="707.6" width="26.9" height="3.4" rx="4.84" ry="1.7" fill="#404040" filter="url(#bl)"/>
<rect x="358.2" y="708" width="33.8" height="4.2" rx="6" ry="2.1" fill="#3a3a3a" filter="url(#bl)"/>
<rect x="60.4" y="674" width="1.6" height="5" fill="#333" filter="url(#bl)"/>
<rect x="140.4" y="657.5" width="1.4" height="6.5" fill="#444" filter="url(#bl)"/>
<rect x="285" y="635.8" width="1.6" height="1.8" fill="#444"/>
<rect x="154" y="696.4" width="26" height="1.6" fill="#858585"/>
</svg>
</body></html>
